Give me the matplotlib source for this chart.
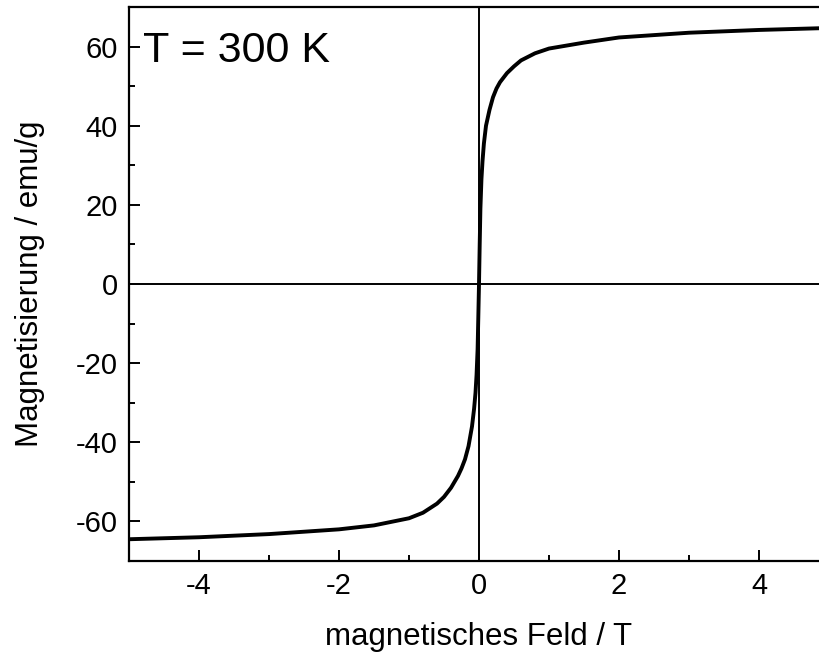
import matplotlib
matplotlib.use("Agg")
import matplotlib.pyplot as plt
from matplotlib.ticker import MultipleLocator

# magnetisation curve (field in T, magnetisation in emu/g)
field = [-5.0, -4.0, -3.0, -2.0, -1.5, -1.0, -0.8, -0.6, -0.5, -0.4, -0.3, -0.25,
         -0.2, -0.15, -0.1, -0.07, -0.05, -0.035, -0.02, -0.01, 0.0,
         0.01, 0.02, 0.035, 0.05, 0.07, 0.1, 0.15, 0.2, 0.25, 0.3, 0.4, 0.5,
         0.6, 0.8, 1.0, 1.5, 2.0, 3.0, 4.0, 5.0]
magnetisation = [-64.5, -64.0, -63.2, -62.0, -61.0, -59.2, -57.8, -55.5, -53.8, -51.5, -48.5, -46.6,
                 -44.3, -41.0, -36.0, -31.5, -27.5, -23.0, -16.5, -8.5, 0.0,
                 10.0, 19.0, 26.5, 31.0, 35.5, 40.0, 44.0, 47.2, 49.4, 51.0, 53.3, 55.0,
                 56.5, 58.3, 59.5, 61.0, 62.3, 63.5, 64.2, 64.7]

x_ticks = [-4, -2, 0, 2, 4]
y_ticks = [-60, -40, -20, 0, 20, 40, 60]

plt.rcParams["font.family"] = ["Liberation Sans", "DejaVu Sans"]
plt.rcParams["axes.unicode_minus"] = False

fig = plt.figure(figsize=(8.19, 6.56), dpi=100)
ax = fig.add_axes([129 / 819, 95 / 656, 700 / 819, 554 / 656])

ax.axhline(0, color="black", linewidth=1.4, zorder=1)
ax.axvline(0, color="black", linewidth=1.4, zorder=1)
ax.plot(field, magnetisation, color="black", linewidth=2.8, zorder=3,
        solid_joinstyle="round")

ax.set_xlim(-5, 5)
ax.set_ylim(-70, 70)
ax.set_xticks(x_ticks)
ax.set_yticks(y_ticks)
ax.xaxis.set_minor_locator(MultipleLocator(1))
ax.yaxis.set_minor_locator(MultipleLocator(10))
ax.tick_params(which="major", direction="in", length=8, width=1.4,
               labelsize=21, pad=8)
ax.tick_params(which="minor", direction="in", length=4, width=1.4)
ax.tick_params(top=False, right=False, which="both")

for spine in ax.spines.values():
    spine.set_linewidth(1.6)

ax.set_xlabel("magnetisches Feld / T", fontsize=22.5, labelpad=16)
ax.set_ylabel("Magnetisierung / emu/g", fontsize=22.5, labelpad=22)

ax.text(0.02, 0.9, "T = 300 K", transform=ax.transAxes, fontsize=31,
        va="baseline", ha="left")

fig.savefig("out.png", dpi=100)
